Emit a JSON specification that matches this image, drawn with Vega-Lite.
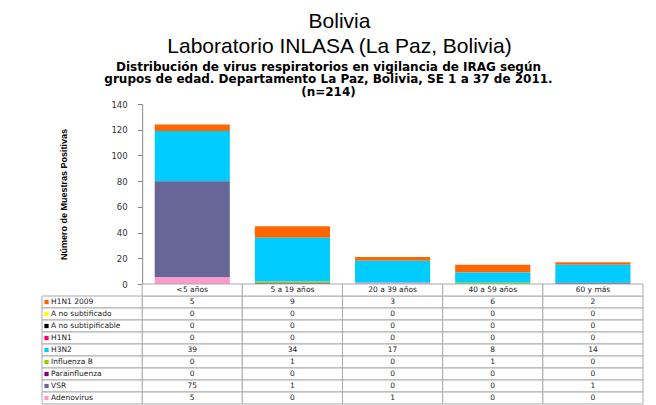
{
  "$schema": "https://vega.github.io/schema/vega-lite/v6.json",
  "padding": {"left": 41, "top": 10, "right": 10, "bottom": 0},
  "background": "white",
  "bounds": "flush",
  "title": {
    "text": ["Bolivia", "Laboratorio INLASA (La Paz, Bolivia)"],
    "font": "Liberation Sans", "fontSize": 21, "fontWeight": "normal", "lineHeight": 25,
    "color": "#000", "anchor": "middle", "dx": -3, "offset": 4
  },
  "datasets": {
    "cats": [
      {"cat": "<5 años"}, {"cat": "5 a 19 años"}, {"cat": "20 a 39 años"}, {"cat": "40 a 59 años"}, {"cat": "60 y más"}
    ],
    "series": [
      {"serie": "H1N1 2009"}, {"serie": "A no subtificado"}, {"serie": "A no subtipificable"}, {"serie": "H1N1"},
      {"serie": "H3N2"}, {"serie": "Influenza B"}, {"serie": "Parainfluenza"}, {"serie": "VSR"}, {"serie": "Adenovirus"}
    ],
    "virus": [
      {"serie": "H1N1 2009", "cat": "<5 años", "n": 5},
      {"serie": "H1N1 2009", "cat": "5 a 19 años", "n": 9},
      {"serie": "H1N1 2009", "cat": "20 a 39 años", "n": 3},
      {"serie": "H1N1 2009", "cat": "40 a 59 años", "n": 6},
      {"serie": "H1N1 2009", "cat": "60 y más", "n": 2},
      {"serie": "A no subtificado", "cat": "<5 años", "n": 0},
      {"serie": "A no subtificado", "cat": "5 a 19 años", "n": 0},
      {"serie": "A no subtificado", "cat": "20 a 39 años", "n": 0},
      {"serie": "A no subtificado", "cat": "40 a 59 años", "n": 0},
      {"serie": "A no subtificado", "cat": "60 y más", "n": 0},
      {"serie": "A no subtipificable", "cat": "<5 años", "n": 0},
      {"serie": "A no subtipificable", "cat": "5 a 19 años", "n": 0},
      {"serie": "A no subtipificable", "cat": "20 a 39 años", "n": 0},
      {"serie": "A no subtipificable", "cat": "40 a 59 años", "n": 0},
      {"serie": "A no subtipificable", "cat": "60 y más", "n": 0},
      {"serie": "H1N1", "cat": "<5 años", "n": 0},
      {"serie": "H1N1", "cat": "5 a 19 años", "n": 0},
      {"serie": "H1N1", "cat": "20 a 39 años", "n": 0},
      {"serie": "H1N1", "cat": "40 a 59 años", "n": 0},
      {"serie": "H1N1", "cat": "60 y más", "n": 0},
      {"serie": "H3N2", "cat": "<5 años", "n": 39},
      {"serie": "H3N2", "cat": "5 a 19 años", "n": 34},
      {"serie": "H3N2", "cat": "20 a 39 años", "n": 17},
      {"serie": "H3N2", "cat": "40 a 59 años", "n": 8},
      {"serie": "H3N2", "cat": "60 y más", "n": 14},
      {"serie": "Influenza B", "cat": "<5 años", "n": 0},
      {"serie": "Influenza B", "cat": "5 a 19 años", "n": 1},
      {"serie": "Influenza B", "cat": "20 a 39 años", "n": 0},
      {"serie": "Influenza B", "cat": "40 a 59 años", "n": 1},
      {"serie": "Influenza B", "cat": "60 y más", "n": 0},
      {"serie": "Parainfluenza", "cat": "<5 años", "n": 0},
      {"serie": "Parainfluenza", "cat": "5 a 19 años", "n": 0},
      {"serie": "Parainfluenza", "cat": "20 a 39 años", "n": 0},
      {"serie": "Parainfluenza", "cat": "40 a 59 años", "n": 0},
      {"serie": "Parainfluenza", "cat": "60 y más", "n": 0},
      {"serie": "VSR", "cat": "<5 años", "n": 75},
      {"serie": "VSR", "cat": "5 a 19 años", "n": 1},
      {"serie": "VSR", "cat": "20 a 39 años", "n": 0},
      {"serie": "VSR", "cat": "40 a 59 años", "n": 0},
      {"serie": "VSR", "cat": "60 y más", "n": 1},
      {"serie": "Adenovirus", "cat": "<5 años", "n": 5},
      {"serie": "Adenovirus", "cat": "5 a 19 años", "n": 0},
      {"serie": "Adenovirus", "cat": "20 a 39 años", "n": 1},
      {"serie": "Adenovirus", "cat": "40 a 59 años", "n": 0},
      {"serie": "Adenovirus", "cat": "60 y más", "n": 0}
    ]
  },
  "spacing": 0,
  "vconcat": [
    {
      "width": 601,
      "height": 180,
      "title": {
        "text": ["Distribución de virus respiratorios en vigilancia de IRAG según", "grupos de edad. Departamento La Paz, Bolivia, SE 1 a 37 de 2011.", "(n=214)"],
        "font": "DejaVu Sans", "fontSize": 12, "fontWeight": "bold", "lineHeight": 12.7,
        "color": "#000", "anchor": "middle", "dx": -14, "offset": 1
      },
      "data": {"name": "virus"},
      "transform": [
        {"calculate": "indexof(['Adenovirus','VSR','Parainfluenza','Influenza B','H3N2','H1N1','A no subtipificable','A no subtificado','H1N1 2009'], datum.serie)", "as": "orden"}
      ],
      "mark": {"type": "bar"},
      "encoding": {
        "x": {
          "field": "cat", "type": "nominal",
          "scale": {"domain": ["lbl", "<5 años", "5 a 19 años", "20 a 39 años", "40 a 59 años", "60 y más"], "paddingInner": 0.25, "paddingOuter": 0.125},
          "axis": null
        },
        "y": {
          "field": "n", "type": "quantitative", "stack": "zero",
          "scale": {"domain": [0, 140], "nice": false},
          "axis": {
            "title": "Número de Muestras Positivas", "offset": -100.17,
            "values": [0, 20, 40, 60, 80, 100, 120, 140], "grid": false,
            "domainColor": "#888", "tickColor": "#888", "tickSize": 5, "labelPadding": 10,
            "labelFont": "DejaVu Sans", "labelFontSize": 8.5, "labelColor": "#333",
            "titleFont": "Liberation Sans", "titleFontSize": 9, "titleFontWeight": "bold",
            "titleColor": "#000", "titlePadding": 42
          }
        },
        "order": {"field": "orden", "type": "quantitative", "sort": "ascending"},
        "color": {
          "field": "serie", "type": "nominal",
          "scale": {
            "domain": ["Adenovirus", "VSR", "Parainfluenza", "Influenza B", "H3N2", "H1N1", "A no subtipificable", "A no subtificado", "H1N1 2009"],
            "range": ["#FF99CC", "#666699", "#800080", "#99CC00", "#00CCFF", "#FF0066", "#000000", "#FFFF00", "#FF6600"]
          },
          "legend": null
        }
      }
    },
    {
      "width": 601,
      "height": 120,
      "encoding": {
        "x": {"type": "nominal", "scale": {"domain": ["lbl", "<5 años", "5 a 19 años", "20 a 39 años", "40 a 59 años", "60 y más"], "padding": 0}, "axis": null},
        "y": {"type": "nominal", "scale": {"domain": ["hdr", "H1N1 2009", "A no subtificado", "A no subtipificable", "H1N1", "H3N2", "Influenza B", "Parainfluenza", "VSR", "Adenovirus"], "padding": 0}, "axis": null}
      },
      "layer": [
        {
          "data": {"name": "virus"},
          "mark": {"type": "rect", "fill": "white", "stroke": "#aaaaaa", "strokeWidth": 1},
          "encoding": {"x": {"field": "cat", "type": "nominal"}, "y": {"field": "serie", "type": "nominal"}}
        },
        {
          "data": {"name": "cats"},
          "mark": {"type": "rect", "fill": "white", "stroke": "#aaaaaa", "strokeWidth": 1},
          "encoding": {"x": {"field": "cat", "type": "nominal"}, "y": {"datum": "hdr", "type": "nominal"}}
        },
        {
          "data": {"name": "series"},
          "mark": {"type": "rect", "fill": "white", "stroke": "#aaaaaa", "strokeWidth": 1},
          "encoding": {"x": {"datum": "lbl", "type": "nominal"}, "y": {"field": "serie", "type": "nominal"}}
        },
        {
          "data": {"name": "virus"},
          "mark": {"type": "text", "font": "DejaVu Sans", "fontSize": 7.5, "color": "#222"},
          "encoding": {"x": {"field": "cat", "type": "nominal"}, "y": {"field": "serie", "type": "nominal"}, "text": {"field": "n", "type": "quantitative"}}
        },
        {
          "data": {"name": "cats"},
          "mark": {"type": "text", "font": "DejaVu Sans", "fontSize": 7.5, "color": "#222"},
          "encoding": {"x": {"field": "cat", "type": "nominal"}, "y": {"datum": "hdr", "type": "nominal"}, "text": {"field": "cat", "type": "nominal"}}
        },
        {
          "data": {"name": "series"},
          "mark": {"type": "point", "shape": "square", "filled": true, "size": 18, "opacity": 1},
          "encoding": {
            "x": {"datum": "lbl", "type": "nominal", "bandPosition": 0.045},
            "y": {"field": "serie", "type": "nominal"},
            "color": {
              "field": "serie", "type": "nominal",
              "scale": {
                "domain": ["Adenovirus", "VSR", "Parainfluenza", "Influenza B", "H3N2", "H1N1", "A no subtipificable", "A no subtificado", "H1N1 2009"],
                "range": ["#FF99CC", "#666699", "#800080", "#99CC00", "#00CCFF", "#FF0066", "#000000", "#FFFF00", "#FF6600"]
              },
              "legend": null
            }
          }
        },
        {
          "data": {"name": "series"},
          "mark": {"type": "text", "align": "left", "font": "DejaVu Sans", "fontSize": 7.5, "color": "#222"},
          "encoding": {
            "x": {"datum": "lbl", "type": "nominal", "bandPosition": 0.09},
            "y": {"field": "serie", "type": "nominal"},
            "text": {"field": "serie", "type": "nominal"}
          }
        }
      ]
    }
  ],
  "config": {"view": {"stroke": null}}
}
